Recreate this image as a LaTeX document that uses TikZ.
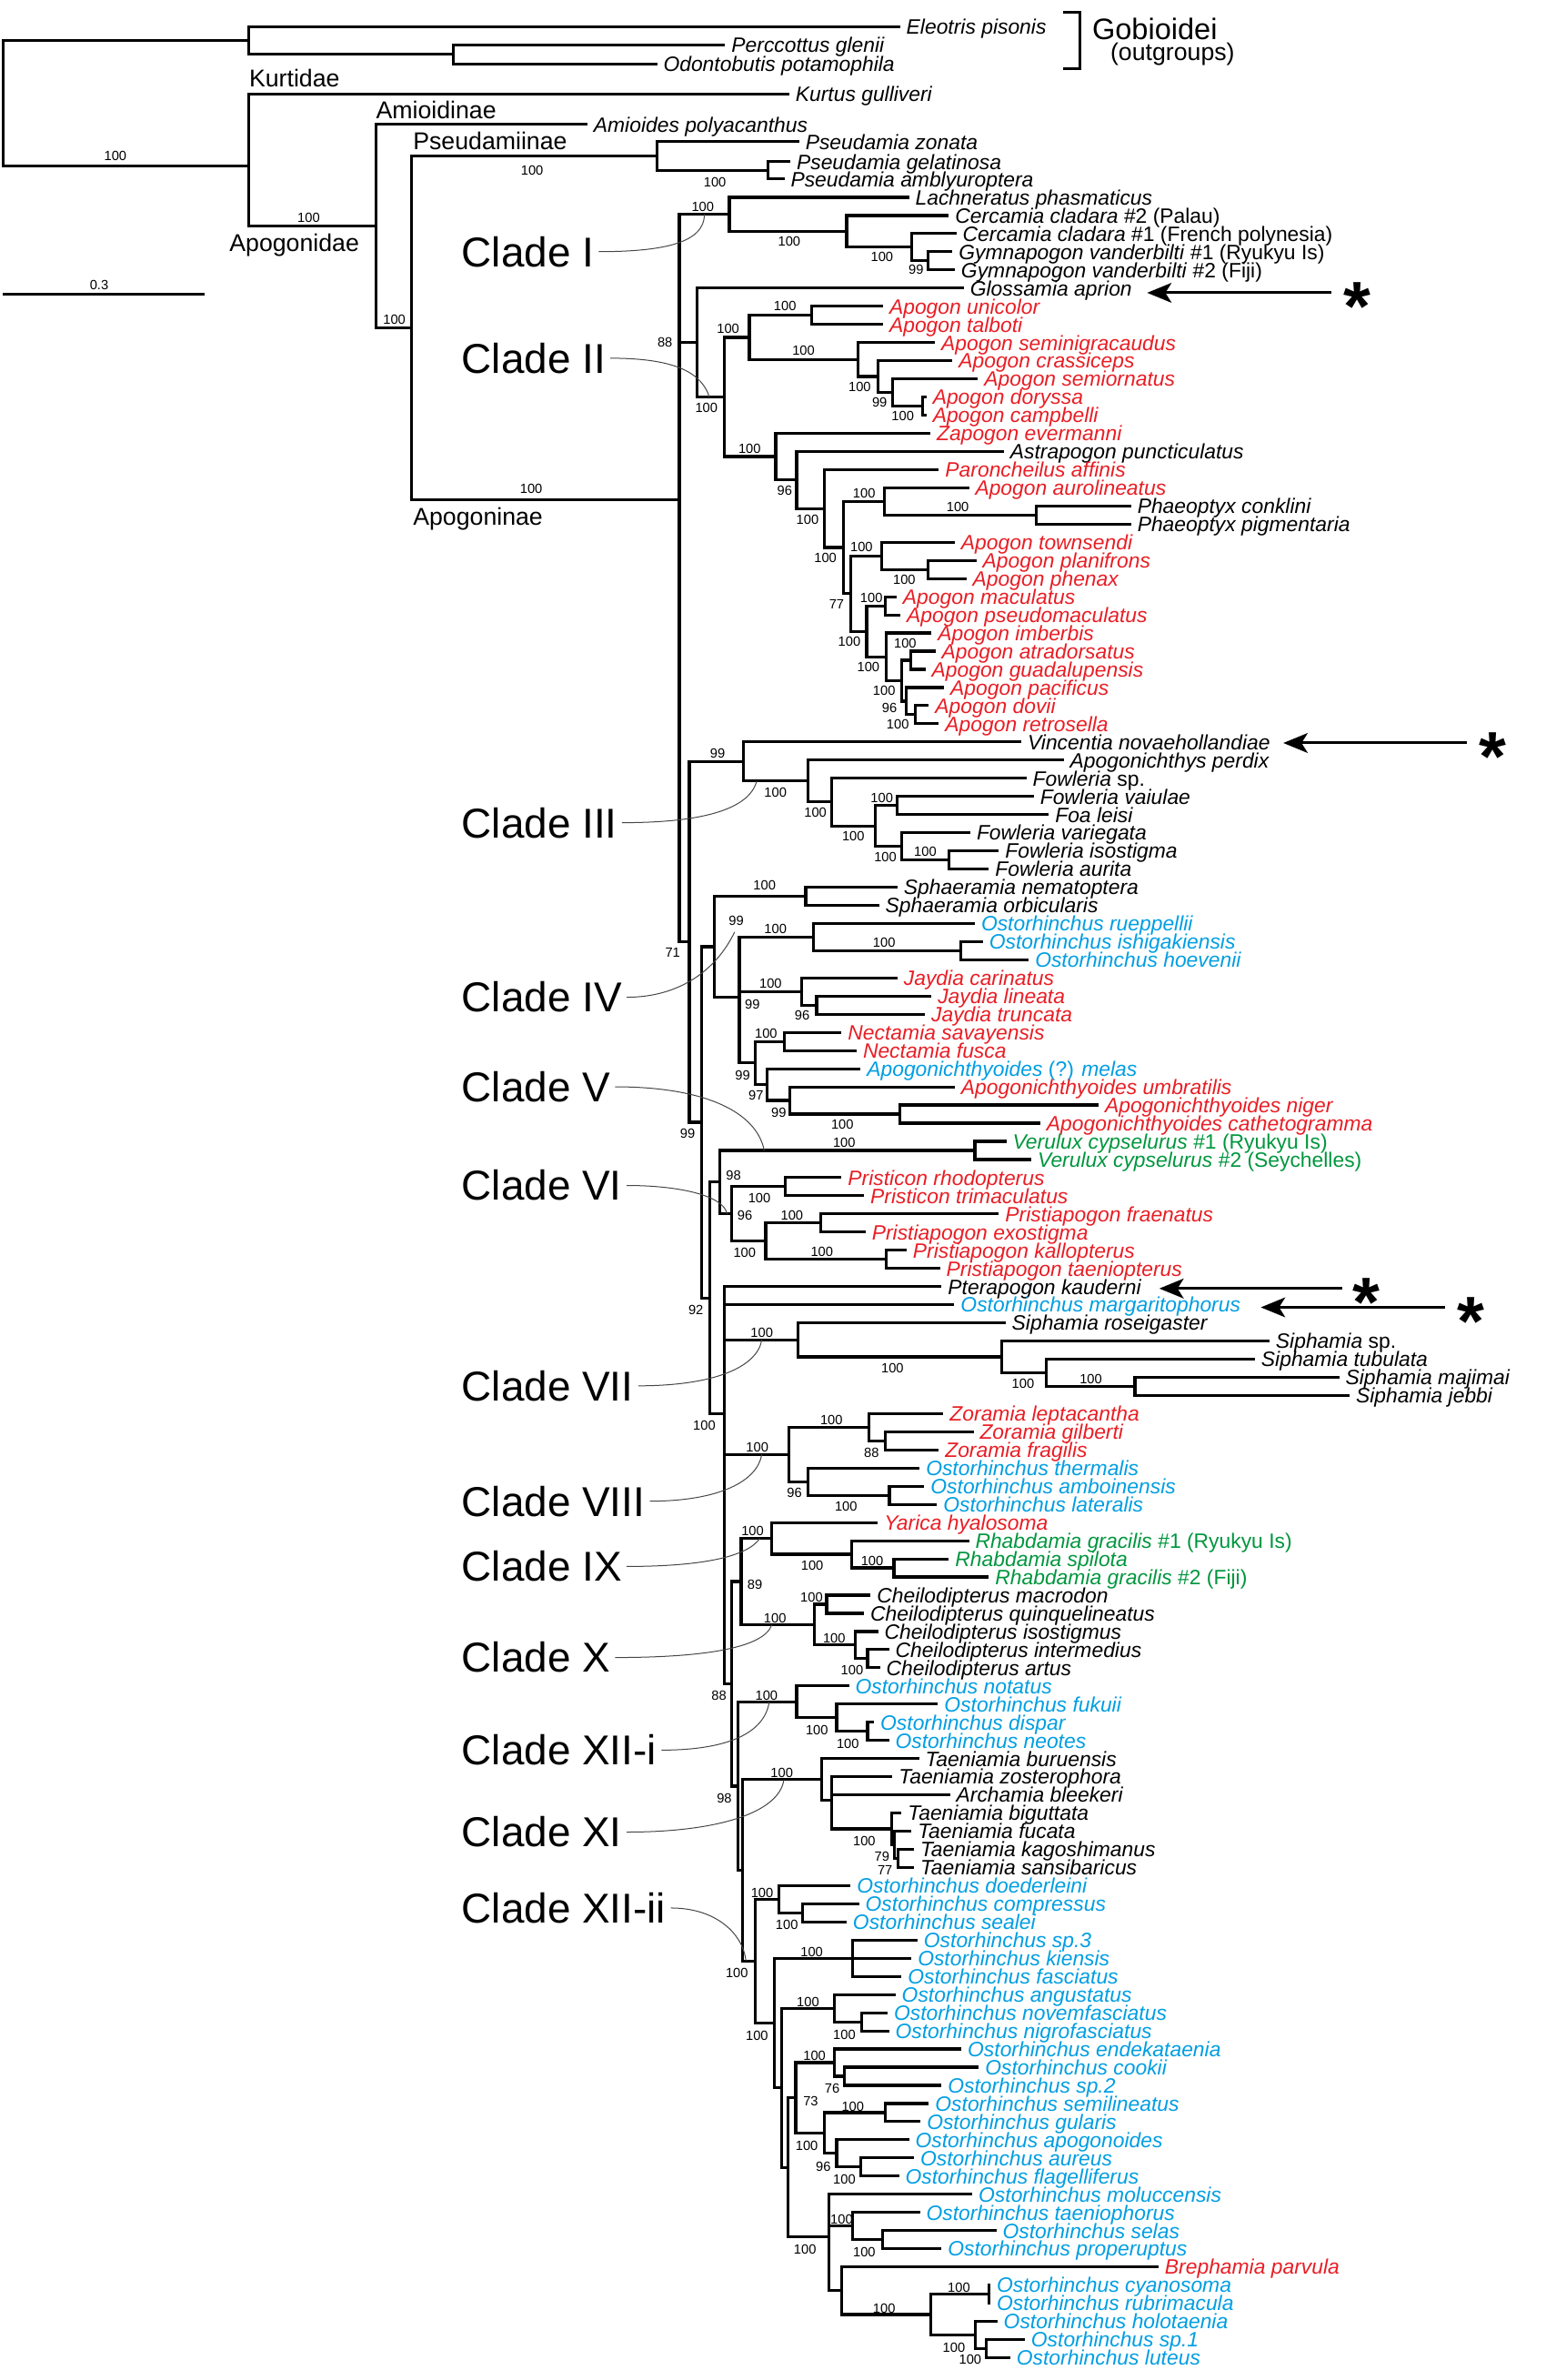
\documentclass[tikz,border=0pt]{standalone}
\usepackage{fontspec}
\setmainfont{Liberation Sans}
\usepackage{xcolor}
\usepackage{tikz}
\usetikzlibrary{arrows.meta}
\definecolor{taxred}{RGB}{232,30,37}
\definecolor{taxblue}{RGB}{0,158,226}
\definecolor{taxgreen}{RGB}{0,150,62}
\definecolor{leadgray}{RGB}{70,70,70}
\tikzstyle{branch} = [line width=1.9pt]
\tikzstyle{taxon} = [anchor=west, inner xsep=4pt, inner ysep=0pt, text height=12pt, text depth=2pt, font=\fontsize{13.7}{14}\selectfont\itshape]
\tikzstyle{boot} = [inner sep=0pt, font=\fontsize{8.8}{9}\selectfont]
\tikzstyle{clade} = [anchor=west, inner sep=0pt, font=\fontsize{27.5}{28}\selectfont]
\tikzstyle{group} = [anchor=base west, inner sep=0pt, font=\fontsize{16}{17}\selectfont]
\tikzstyle{leader} = [leadgray, line width=0.6pt]
\tikzstyle{arrow} = [line width=1.8pt, -{Stealth[length=16pt, width=13pt, inset=4pt]}]
\tikzstyle{starnote} = [anchor=north, inner sep=0pt, font=\fontsize{46}{46}\selectfont\bfseries]

\begin{document}
\begin{tikzpicture}[x=1pt, y=-1pt]
    \useasboundingbox (0,0) rectangle (1025,1568);

    % Root, outgroups and subfamilies
    \coordinate (root) at (2,68);
    \coordinate (gob) at (163.8,26.7);
    \coordinate (gobb) at (298.7,35.8);
    \coordinate (apx) at (163.8,109.5);
    \coordinate (apg) at (247.6,149);
    \coordinate (apgb) at (271,216);
    \coordinate (psd) at (433,102.75);
    \coordinate (psdb) at (506,112.2);
    \coordinate (apo) at (447.6,329.2);

    % Backbone of Apogoninae
    \coordinate (bbA) at (454.2,620.6);
    \coordinate (bbB) at (462.4,739.4);
    \coordinate (bbC) at (467.5,855.2);
    \coordinate (bbD) at (477.4,931.5);
    \coordinate (bbE) at (482.2,1109.3);
    \coordinate (bbF) at (486.2,1176.7);
    \coordinate (bbG) at (489.1,1232.15);

    % Clade I
    \coordinate (cIa) at (480.5,141.2);
    \coordinate (cIb) at (557.8,152.4);
    \coordinate (cIc) at (600.5,162.9);
    \coordinate (cId) at (611.4,171.86);

    % Clade II
    \coordinate (cIIa) at (459.2,225.7);
    \coordinate (cIIb) at (477.2,261.6);
    \coordinate (cIIc) at (493.7,222.3);
    \coordinate (cIId) at (534.8,207.74);
    \coordinate (cIIe) at (565.4,236.9);
    \coordinate (cIIf) at (578.5,248.1);
    \coordinate (cIIg) at (588,258.57);
    \coordinate (cIIh) at (607.8,267.54);
    \coordinate (cIIn) at (511.1,300.8);
    \coordinate (cIIo) at (524.9,316.2);
    \coordinate (cIIp) at (543,335.05);
    \coordinate (cIIq) at (555.5,360.7);
    \coordinate (cIIr) at (582.5,330.3);
    \coordinate (cIIs) at (682.7,339.3);
    \coordinate (cIIt) at (560.4,391.05);
    \coordinate (cIIu) at (580.8,366.2);
    \coordinate (cIIv) at (611.4,375.18);
    \coordinate (cIIw) at (571,415.9);
    \coordinate (cIIx) at (583.4,399.1);
    \coordinate (cIIy) at (584.1,432.7);
    \coordinate (cIIz) at (594,448.4);
    \coordinate (cIIza) at (599.9,434.98);
    \coordinate (cIIzb) at (597.3,461.9);
    \coordinate (cIIzc) at (603.2,470.86);

    % Clade III
    \coordinate (cIIIa) at (489.7,501.7);
    \coordinate (cIIIb) at (532.2,514.6);
    \coordinate (cIIIc) at (547.9,528.4);
    \coordinate (cIIId) at (576.9,544.1);
    \coordinate (cIIIe) at (591.3,530.66);
    \coordinate (cIIIf) at (594,557.57);
    \coordinate (cIIIg) at (625.2,566.54);

    % Clade IV
    \coordinate (cIVa) at (470.7,623.7);
    \coordinate (cIVb) at (530.8,590.46);
    \coordinate (cIVc) at (487.1,657.0);
    \coordinate (cIVd) at (535.8,617.37);
    \coordinate (cIVe) at (632.8,626.34);
    \coordinate (cIVf) at (528.2,653.25);
    \coordinate (cIVg) at (538,662.22);
    \coordinate (cIVh) at (497.6,700.3);
    \coordinate (cIVi) at (516.7,686.14);
    \coordinate (cIVj) at (505.2,714.5);
    \coordinate (cIVk) at (520.6,725.01);
    \coordinate (cIVl) at (593,733.98);

    % Clades V and VI
    \coordinate (cVVI) at (474,778.83);
    \coordinate (cVa) at (642.3,757.9);
    \coordinate (cVIa) at (482.2,799.76);
    \coordinate (cVIb) at (517.3,781.82);
    \coordinate (cVIc) at (504.5,817.7);
    \coordinate (cVId) at (540.7,805.74);
    \coordinate (cVIe) at (584.1,829.66);

    % Clade VII
    \coordinate (cVIIa) at (526,882.7);
    \coordinate (cVIIb) at (659.8,893.9);
    \coordinate (cVIIc) at (689.2,904.41);
    \coordinate (cVIId) at (747.7,913.38);

    % Clade VIII
    \coordinate (cVIIIa) at (519.9,958.2);
    \coordinate (cVIIIb) at (572.6,940.3);
    \coordinate (cVIIIc) at (583.3,949.26);
    \coordinate (cVIIId) at (532.5,976.2);
    \coordinate (cVIIIe) at (586,985.14);

    % Clades IX and X
    \coordinate (cIXX) at (488.3,1041.9);
    \coordinate (cIXa) at (508.4,1013.5);
    \coordinate (cIXb) at (561.1,1024.0);
    \coordinate (cIXc) at (589,1032.98);
    \coordinate (cXa) at (536.4,1070.36);
    \coordinate (cXb) at (544.6,1056.9);
    \coordinate (cXc) at (563.4,1083.8);
    \coordinate (cXd) at (571.6,1092.78);

    % Clade XII-i
    \coordinate (cXIIia) at (524.9,1121.2);
    \coordinate (cXIIib) at (551.2,1131.65);
    \coordinate (cXIIic) at (571.6,1140.62);

    % Clade XI
    \coordinate (cXIa) at (541.4,1172.3);
    \coordinate (cXIb) at (548,1185.97);
    \coordinate (cXIc) at (587.4,1204.9);
    \coordinate (cXId) at (589.5,1215.37);
    \coordinate (cXIe) at (591.5,1224.34);

    % Clade XII-ii
    \coordinate (cXIIiia) at (497.6,1292.0);
    \coordinate (dA) at (513.4,1251.25);
    \coordinate (dB) at (528.9,1260.22);
    \coordinate (dC) at (510.1,1332.8);
    \coordinate (dD) at (561.7,1290.12);
    \coordinate (dE) at (515.1,1375.45);
    \coordinate (dF) at (549.6,1323.0);
    \coordinate (dG) at (567.7,1331.98);
    \coordinate (dH) at (519,1427.9);
    \coordinate (dI) at (524.3,1382.05);
    \coordinate (dJ) at (549.6,1358.9);
    \coordinate (dK) at (556.1,1367.86);
    \coordinate (dL) at (543,1405.2);
    \coordinate (dM) at (583.1,1391.78);
    \coordinate (dN) at (551.2,1418.7);
    \coordinate (dO) at (567,1427.66);
    \coordinate (dP) at (546.3,1473.7);
    \coordinate (dQ) at (561.7,1466.5);
    \coordinate (dR) at (581.5,1475.5);
    \coordinate (dS) at (554.5,1509.1);
    \coordinate (dT) at (613,1524.8);
    \coordinate (dU) at (651.5,1511.38);
    \coordinate (dV) at (642.6,1538.3);
    \coordinate (dW) at (649.9,1547.26);

    % Internal branches
    \foreach \p/\c in {root/gob, root/apx, gob/gobb, apx/apg, apg/apgb, apgb/psd, apgb/apo, psd/psdb,
        apo/cIa, apo/cIIa, apo/bbA, cIa/cIb, cIb/cIc, cIc/cId,
        cIIa/cIIb, cIIb/cIIc, cIIb/cIIn, cIIc/cIId, cIIc/cIIe, cIIe/cIIf, cIIf/cIIg, cIIg/cIIh,
        cIIn/cIIo, cIIo/cIIp, cIIp/cIIq, cIIq/cIIr, cIIq/cIIt, cIIr/cIIs, cIIt/cIIu, cIIt/cIIw,
        cIIu/cIIv, cIIw/cIIx, cIIw/cIIy, cIIy/cIIz, cIIz/cIIza, cIIz/cIIzb, cIIzb/cIIzc,
        bbA/cIIIa, bbA/bbB, cIIIa/cIIIb, cIIIb/cIIIc, cIIIc/cIIId, cIIId/cIIIe, cIIId/cIIIf, cIIIf/cIIIg,
        bbB/cIVa, bbB/bbC, cIVa/cIVb, cIVa/cIVc, cIVc/cIVd, cIVc/cIVf, cIVc/cIVh, cIVd/cIVe,
        cIVf/cIVg, cIVh/cIVi, cIVh/cIVj, cIVj/cIVk, cIVk/cIVl,
        bbC/cVVI, bbC/bbD, cVVI/cVa, cVVI/cVIa, cVIa/cVIb, cVIa/cVIc, cVIc/cVId, cVIc/cVIe,
        bbD/cVIIa, bbD/cVIIIa, bbD/bbE, cVIIa/cVIIb, cVIIb/cVIIc, cVIIc/cVIId,
        cVIIIa/cVIIIb, cVIIIa/cVIIId, cVIIIb/cVIIIc, cVIIId/cVIIIe,
        bbE/cIXX, bbE/bbF, cIXX/cIXa, cIXX/cXa, cIXa/cIXb, cIXb/cIXc, cXa/cXb, cXa/cXc, cXc/cXd,
        bbF/cXIIia, bbF/bbG, cXIIia/cXIIib, cXIIib/cXIIic,
        bbG/cXIa, bbG/cXIIiia, cXIa/cXIb, cXIb/cXIc, cXIc/cXId, cXId/cXIe,
        cXIIiia/dA, cXIIiia/dC, dA/dB, dC/dD, dC/dE, dE/dF, dE/dH, dF/dG, dH/dI, dH/dP,
        dI/dJ, dI/dL, dJ/dK, dL/dM, dL/dN, dN/dO, dP/dQ, dP/dS, dQ/dR, dS/dT, dT/dU, dT/dV, dV/dW} {
        \draw[branch] (\p) |- (\c);
    }

    % Outgroup and basal taxa
    \foreach \i/\p/\x/\y/\txt in {1/gob/593/17.6/Eleotris pisonis, 2/gobb/477.8/29.6/Perccottus glenii,
        3/gobb/432.9/42/Odontobutis potamophila, 4/apx/520/62/Kurtus gulliveri,
        5/apg/387/82/Amioides polyacanthus, 6/psd/526.5/93.3/Pseudamia zonata,
        7/psdb/520.7/106.5/Pseudamia gelatinosa, 8/psdb/516.8/117.9/Pseudamia amblyuroptera} {
        \node[taxon] (t\i) at (\x,\y) {\txt};
        \draw[branch] (\p) |- (t\i.west);
    }

    % Apogoninae taxa
    \foreach \i/\p/\x/\col/\txt in {
        9/cIa/598.9/black/Lachneratus phasmaticus,
        10/cIb/625.2/black/Cercamia cladara \textup{\#2 (Palau)},
        11/cIc/630.1/black/Cercamia cladara \textup{\#1 (French polynesia)},
        12/cId/627.5/black/Gymnapogon vanderbilti \textup{\#1 (Ryukyu Is)},
        13/cId/629.1/black/Gymnapogon vanderbilti \textup{\#2 (Fiji)},
        14/cIIa/635/black/Glossamia aprion,
        15/cIId/581.8/taxred/Apogon unicolor,
        16/cIId/581.8/taxred/Apogon talboti,
        17/cIIe/616/taxred/Apogon seminigracaudus,
        18/cIIf/627.5/taxred/Apogon crassiceps,
        19/cIIg/644.3/taxred/Apogon semiornatus,
        20/cIIh/610.4/taxred/Apogon doryssa,
        21/cIIh/610.4/taxred/Apogon campbelli,
        22/cIIn/613/taxred/Zapogon evermanni,
        23/cIIo/661.4/black/Astrapogon puncticulatus,
        24/cIIp/618.6/taxred/Paroncheilus affinis,
        25/cIIr/638.4/taxred/Apogon aurolineatus,
        26/cIIs/745.2/black/Phaeoptyx conklini,
        27/cIIs/745.2/black/Phaeoptyx pigmentaria,
        28/cIIu/629.1/taxred/Apogon townsendi,
        29/cIIv/643.3/taxred/Apogon planifrons,
        30/cIIv/636.7/taxred/Apogon phenax,
        31/cIIx/590.7/taxred/Apogon maculatus,
        32/cIIx/593.3/taxred/Apogon pseudomaculatus,
        33/cIIy/613.7/taxred/Apogon imberbis,
        34/cIIza/616.3/taxred/Apogon atradorsatus,
        35/cIIza/609.7/taxred/Apogon guadalupensis,
        36/cIIzb/622/taxred/Apogon pacificus,
        37/cIIzc/612/taxred/Apogon dovii,
        38/cIIzc/618.6/taxred/Apogon retrosella,
        39/cIIIa/672.9/black/Vincentia novaehollandiae,
        40/cIIIb/700.8/black/Apogonichthys perdix,
        41/cIIIc/676.2/black/Fowleria \textup{sp.},
        42/cIIIe/681.1/black/Fowleria vaiulae,
        43/cIIIe/691/black/Foa leisi,
        44/cIIIf/639.3/black/Fowleria variegata,
        45/cIIIg/658.1/black/Fowleria isostigma,
        46/cIIIg/651.5/black/Fowleria aurita,
        47/cIVb/591.3/black/Sphaeramia nematoptera,
        48/cIVb/579.2/black/Sphaeramia orbicularis,
        49/cIVd/642.3/taxblue/Ostorhinchus rueppellii,
        50/cIVe/647.6/taxblue/Ostorhinchus ishigakiensis,
        51/cIVe/677.8/taxblue/Ostorhinchus hoevenii,
        52/cIVf/591.3/taxred/Jaydia carinatus,
        53/cIVg/613.7/taxred/Jaydia lineata,
        54/cIVg/609.4/taxred/Jaydia truncata,
        55/cIVi/554.5/taxred/Nectamia savayensis,
        56/cIVi/564.4/taxred/Nectamia fusca,
        57/cIVj/567/taxblue/Apogonichthyoides \textup{(?)} melas,
        58/cIVk/629.1/taxred/Apogonichthyoides umbratilis,
        59/cIVl/723.8/taxred/Apogonichthyoides niger,
        60/cIVl/685.4/taxred/Apogonichthyoides cathetogramma,
        61/cVa/663/taxgreen/Verulux cypselurus \textup{\#1 (Ryukyu Is)},
        62/cVa/679.5/taxgreen/Verulux cypselurus \textup{\#2 (Seychelles)},
        63/cVIb/554.5/taxred/Pristicon rhodopterus,
        64/cVIb/569.3/taxred/Pristicon trimaculatus,
        65/cVId/658.1/taxred/Pristiapogon fraenatus,
        66/cVId/570.3/taxred/Pristiapogon exostigma,
        67/cVIe/597.3/taxred/Pristiapogon kallopterus,
        68/cVIe/619.3/taxred/Pristiapogon taeniopterus,
        69/bbD/620.4/black/Pterapogon kauderni,
        70/bbD/628.8/taxblue/Ostorhinchus margaritophorus,
        71/cVIIa/662.5/black/Siphamia roseigaster,
        72/cVIIb/836.4/black/Siphamia \textup{sp.},
        73/cVIIc/826.8/black/Siphamia tubulata,
        74/cVIId/882.3/black/Siphamia majimai,
        75/cVIId/889.2/black/Siphamia jebbi,
        76/cVIIIb/621.6/taxred/Zoramia leptacantha,
        77/cVIIIc/641.4/taxred/Zoramia gilberti,
        78/cVIIIc/618.5/taxred/Zoramia fragilis,
        79/cVIIId/605.9/taxblue/Ostorhinchus thermalis,
        80/cVIIIe/609/taxblue/Ostorhinchus amboinensis,
        81/cVIIIe/617.3/taxblue/Ostorhinchus lateralis,
        82/cIXa/578.4/taxred/Yarica hyalosoma,
        83/cIXb/638.4/taxgreen/Rhabdamia gracilis \textup{\#1 (Ryukyu Is)},
        84/cIXc/625.2/taxgreen/Rhabdamia spilota,
        85/cIXc/651.5/taxgreen/Rhabdamia gracilis \textup{\#2 (Fiji)},
        86/cXb/573.6/black/Cheilodipterus macrodon,
        87/cXb/569.3/black/Cheilodipterus quinquelineatus,
        88/cXc/578.5/black/Cheilodipterus isostigmus,
        89/cXd/585.7/black/Cheilodipterus intermedius,
        90/cXd/579.8/black/Cheilodipterus artus,
        91/cXIIia/559.4/taxblue/Ostorhinchus notatus,
        92/cXIIib/618/taxblue/Ostorhinchus fukuii,
        93/cXIIic/575.9/taxblue/Ostorhinchus dispar,
        94/cXIIic/585.7/taxblue/Ostorhinchus neotes,
        95/cXIa/605.5/black/Taeniamia buruensis,
        96/cXIb/588/black/Taeniamia zosterophora,
        97/cXIb/625.9/black/Archamia bleekeri,
        98/cXIc/594/black/Taeniamia biguttata,
        99/cXId/600.5/black/Taeniamia fucata,
        100/cXIe/602.2/black/Taeniamia kagoshimanus,
        101/cXIe/602.2/black/Taeniamia sansibaricus,
        102/dA/560.4/taxblue/Ostorhinchus doederleini,
        103/dB/566/taxblue/Ostorhinchus compressus,
        104/dB/557.8/taxblue/Ostorhinchus sealei,
        105/dD/604.5/taxblue/Ostorhinchus sp.3,
        106/dD/600.5/taxblue/Ostorhinchus kiensis,
        107/dD/594/taxblue/Ostorhinchus fasciatus,
        108/dF/590/taxblue/Ostorhinchus angustatus,
        109/dG/584.8/taxblue/Ostorhinchus novemfasciatus,
        110/dG/585.7/taxblue/Ostorhinchus nigrofasciatus,
        111/dJ/633.4/taxblue/Ostorhinchus endekataenia,
        112/dK/644.9/taxblue/Ostorhinchus cookii,
        113/dK/620.3/taxblue/Ostorhinchus sp.2,
        114/dM/612/taxblue/Ostorhinchus semilineatus,
        115/dM/606.5/taxblue/Ostorhinchus gularis,
        116/dN/598.9/taxblue/Ostorhinchus apogonoides,
        117/dO/602.2/taxblue/Ostorhinchus aureus,
        118/dO/592.3/taxblue/Ostorhinchus flagelliferus,
        119/dP/640.6/taxblue/Ostorhinchus moluccensis,
        120/dQ/606.1/taxblue/Ostorhinchus taeniophorus,
        121/dR/656.4/taxblue/Ostorhinchus selas,
        122/dR/620.3/taxblue/Ostorhinchus properuptus,
        123/dS/763.3/taxred/Brephamia parvula,
        124/dU/652.5/taxblue/Ostorhinchus cyanosoma,
        125/dU/652.5/taxblue/Ostorhinchus rubrimacula,
        126/dV/657.1/taxblue/Ostorhinchus holotaenia,
        127/dW/675.2/taxblue/Ostorhinchus sp.1,
        128/dW/665.6/taxblue/Ostorhinchus luteus} {
        \pgfmathsetmacro{\ty}{130+(\i-9)*11.96}
        \node[taxon, text=\col] (t\i) at (\x,\ty) {\txt};
        \draw[branch] (\p) |- (t\i.west);
    }

    % Bootstrap values
    \foreach \x/\y/\v [count=\k] in {76/103/100, 203.4/143.5/100, 259.8/210.6/100, 350.6/112.3/100,
        471/120.3/100, 350/322/100, 463/136/100, 520/159.1/100, 581.1/169/100, 603.5/177.8/99,
        438.1/225.3/88, 465.4/268.6/100, 479.7/216.8/100, 517.2/201.8/100, 529.4/231/100,
        566.4/254.8/100, 579.5/265/99, 594.8/274.2/100, 493.9/295.4/100,
        517/323.5/96, 532/342.1/100, 569.3/324.8/100, 631/334.1/100, 543.8/367.5/100,
        567.6/360.5/100, 595.8/382/100, 551.2/398/77, 574.1/394/100, 559.6/422.7/100,
        596.4/424/100, 572.1/439.7/100, 582.5/454.8/100, 586/466.6/96, 591.5/477.1/100,
        472.8/496.4/99, 510.9/521.9/100, 537.2/535.5/100, 562.2/551/100, 581/525.6/100,
        583.3/564.8/100, 609.6/561.3/100, 443.2/627.7/71, 503.7/583.3/100, 485.1/606.7/99,
        510.9/612/100, 582.5/621/100, 507.7/648.2/100, 495.7/661.7/99, 528.5/669/96,
        504.7/681.2/100, 489.3/708.2/99, 498.1/721.9/97, 513.1/733.1/99, 555/741.1/100,
        453/746.6/99, 556.2/752.9/100, 483.3/774.6/98, 500.3/789.1/100, 490.8/800.6/96,
        521.8/800.9/100, 490.6/825.3/100, 541.5/824.8/100, 458.5/863.3/92, 464/939.2/100,
        501.9/878.1/100, 588/901.5/100, 674/911.7/100, 718.7/908.7/100, 498.9/953.7/100,
        547.8/935.7/100, 574.2/957/88, 523.4/983.5/96, 557.4/992.7/100, 495.8/1008.8/100,
        535.1/1031.7/100, 574.6/1028.2/100, 497.3/1044/89, 510.6/1066/100, 534.7/1052.4/100,
        549.6/1079.2/100, 561.4/1100.3/100, 473.7/1117.3/88, 505/1116.8/100, 538.2/1139.6/100,
        558.6/1148.6/100, 477.2/1184.5/98, 515.1/1167.9/100, 569.4/1212.7/100, 581.1/1223.3/79,
        583.1/1232.2/77, 502.1/1247.3/100, 518.4/1268.1/100, 485.5/1299.9/100, 534.8/1286.1/100,
        532.3/1318.9/100, 498.7/1341.2/100, 556.3/1340.4/100, 536.6/1354.5/100, 548.3/1376/76,
        534.1/1384.6/73, 561.9/1387.7/100, 531.5/1413.4/100, 542.4/1427.2/96, 556.3/1435.8/100,
        554.5/1462.3/100, 569.4/1483.8/100, 530.4/1481.8/100, 582.5/1520.8/100, 631.8/1507.3/100,
        628.5/1546.4/100, 639.2/1554.4/100} {
        \node[boot] (bs\k) at (\x,\y) {\v};
    }

    % Group labels
    \node[group] (kurt) at (164,57) {Kurtidae};
    \node[group] (amio) at (247.6,78.3) {Amioidinae};
    \node[group] (pseu) at (272,98.3) {Pseudamiinae};
    \node[group] (apgn) at (151,165.8) {Apogonidae};
    \node[group] (apgi) at (272,346) {Apogoninae};

    % Outgroup bracket
    \draw[branch] (700.4,8) -- (711.4,8) -- (711.4,45.3) -- (700.4,45.3);
    \node[anchor=west, inner sep=0pt, font=\fontsize{19.5}{20}\selectfont] (gobi) at (719.4,19.3) {Gobioidei};
    \node[anchor=west, inner sep=0pt, font=\fontsize{16}{17}\selectfont] (outg) at (731.4,36) {(outgroups)};

    % Scale bar
    \draw[branch] (2,193.8) -- (134.6,193.8);
    \node[boot] (scl) at (65.3,187.8) {0.3};

    % Clade labels and leaders
    \node[clade] (cl1) at (304,165.8) {Clade I};
    \node[clade] (cl2) at (304,236) {Clade II};
    \node[clade] (cl3) at (304,542) {Clade III};
    \node[clade] (cl4) at (304,657) {Clade IV};
    \node[clade] (cl5) at (304,716) {Clade V};
    \node[clade] (cl6) at (304,781) {Clade VI};
    \node[clade] (cl7) at (304,913) {Clade VII};
    \node[clade] (cl8) at (304,989) {Clade VIII};
    \node[clade] (cl9) at (304,1032) {Clade IX};
    \node[clade] (cl10) at (304,1092) {Clade X};
    \node[clade] (cl11) at (304,1153) {Clade XII-i};
    \node[clade] (cl12) at (304,1207) {Clade XI};
    \node[clade] (cl13) at (304,1257) {Clade XII-ii};

    \coordinate (ld1) at (464.1,141.2);
    \coordinate (ld2) at (467.4,261.6);
    \coordinate (ld3) at (498.6,514.6);
    \coordinate (ld4) at (484,614);
    \coordinate (ld5) at (503.5,757.9);
    \coordinate (ld6) at (479,799.76);
    \coordinate (ld7) at (501.9,882.7);
    \coordinate (ld8) at (501.9,958.2);
    \coordinate (ld9) at (500.6,1013.5);
    \coordinate (ld10) at (508.5,1070.4);
    \coordinate (ld11) at (506.8,1121.2);
    \coordinate (ld12) at (516.5,1172.3);
    \coordinate (ld13) at (491.5,1292);

    \draw[leader] ([xshift=3pt]cl1.east) .. controls +(45,0) and +(0,18) .. (ld1);
    \draw[leader] ([xshift=3pt]cl2.east) .. controls +(45,0) and +(-5,-15) .. (ld2);
    \draw[leader] ([xshift=3pt]cl3.east) .. controls +(55,0) and +(-5,18) .. (ld3);
    \draw[leader] ([xshift=3pt]cl4.east) .. controls +(35,0) and +(-12,25) .. (ld4);
    \draw[leader] ([xshift=3pt]cl5.east) .. controls +(60,0) and +(-5,-25) .. (ld5);
    \draw[leader] ([xshift=3pt]cl6.east) .. controls +(35,0) and +(-2,-12) .. (ld6);
    \draw[leader] ([xshift=3pt]cl7.east) .. controls +(50,0) and +(-3,18) .. (ld7);
    \draw[leader] ([xshift=3pt]cl8.east) .. controls +(45,0) and +(-3,18) .. (ld8);
    \draw[leader] ([xshift=3pt]cl9.east) .. controls +(50,0) and +(-8,12) .. (ld9);
    \draw[leader] ([xshift=3pt]cl10.east) .. controls +(60,0) and +(-5,15) .. (ld10);
    \draw[leader] ([xshift=3pt]cl11.east) .. controls +(45,0) and +(-3,20) .. (ld11);
    \draw[leader] ([xshift=3pt]cl12.east) .. controls +(60,0) and +(-3,22) .. (ld12);
    \draw[leader] ([xshift=3pt]cl13.east) .. controls +(30,0) and +(-2,-18) .. (ld13);

    % Arrows and asterisks
    \coordinate (ar1a) at (877,192.9);
    \coordinate (ar1b) at (755.8,192.9);
    \coordinate (ar2a) at (966.5,489.5);
    \coordinate (ar2b) at (845.5,489.5);
    \coordinate (ar3a) at (884.2,848.9);
    \coordinate (ar3b) at (763.8,848.9);
    \coordinate (ar4a) at (952.2,861.3);
    \coordinate (ar4b) at (830.7,861.3);
    \draw[arrow] (ar1a) -- (ar1b);
    \draw[arrow] (ar2a) -- (ar2b);
    \draw[arrow] (ar3a) -- (ar3b);
    \draw[arrow] (ar4a) -- (ar4b);
    \node[starnote] (st1) at (894.2,185.9) {*};
    \node[starnote] (st2) at (983.5,482.5) {*};
    \node[starnote] (st3) at (900.4,842.3) {*};
    \node[starnote] (st4) at (969.3,854.5) {*};
\end{tikzpicture}
\end{document}
